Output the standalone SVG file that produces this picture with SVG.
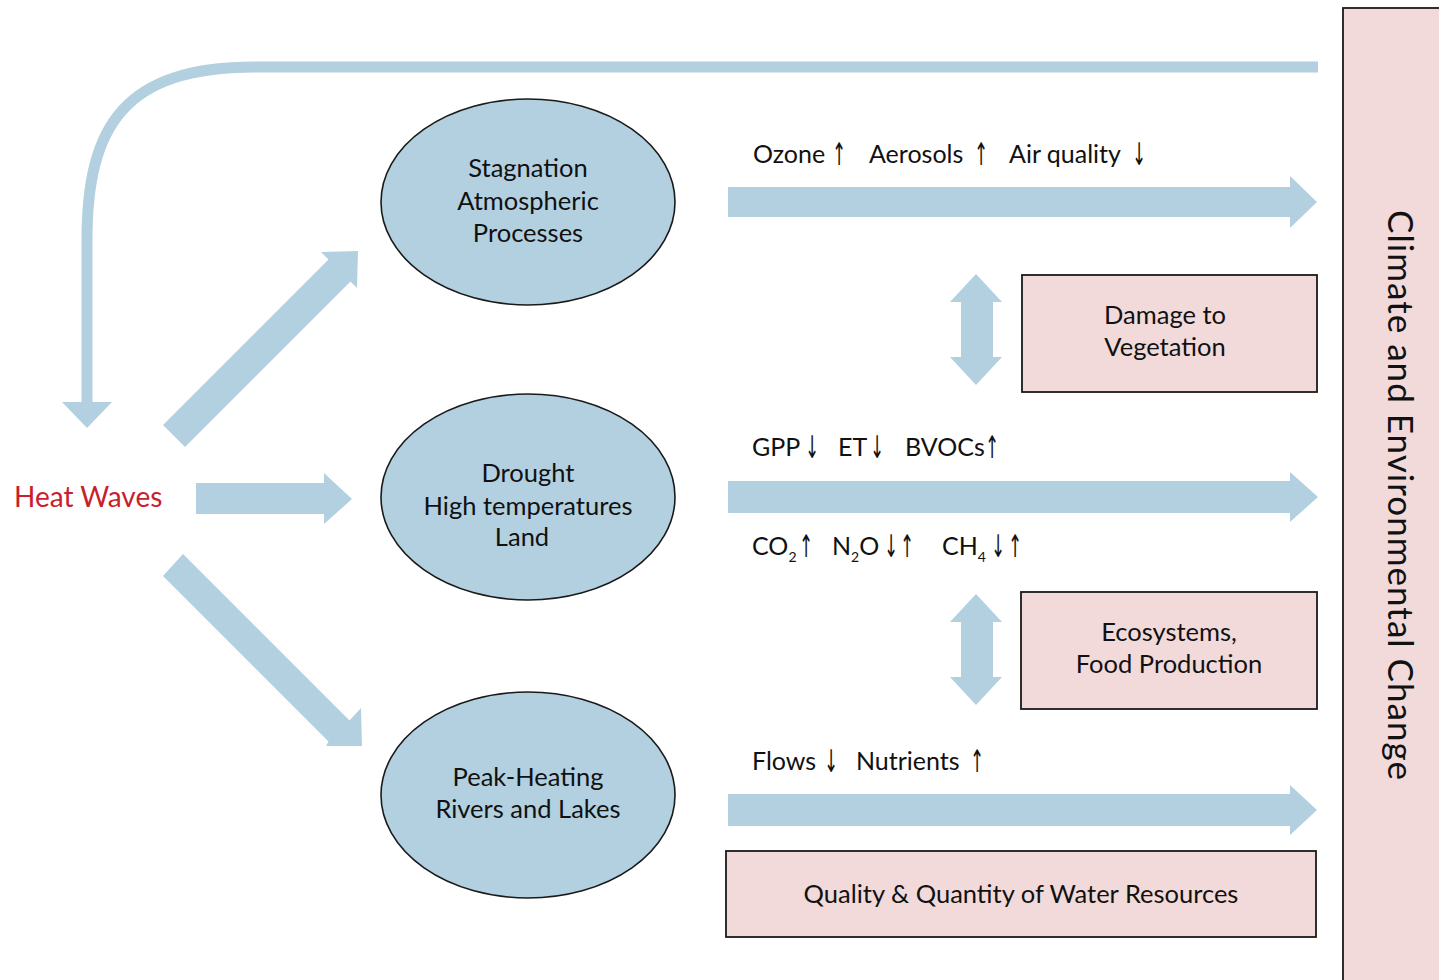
<svg xmlns="http://www.w3.org/2000/svg" width="1439" height="980" viewBox="0 0 1439 980">
  <style>
    .flow { fill: #b2d0e0; }
    .loop { fill: none; stroke: #b2d0e0; stroke-width: 11; }
    .proc { fill: #b2d0e0; stroke: #1a1a1a; stroke-width: 1.6; }
    .impact { fill: #f2dadb; stroke: #1a1a1a; stroke-width: 1.8; }
    text { font-family: Lato, "Liberation Sans", sans-serif; fill: #111; }
    .lbl { font-size: 25.5px; text-anchor: middle; }
    .eff { font-size: 25px; }
    .sub { font-size: 14px; }
    .ar { font-family: "DejaVu Sans", sans-serif; font-size: 24px; text-anchor: middle; fill: #111; }
    .heat { font-size: 28px; fill: #c8202e; }
  </style>
  <rect width="1439" height="980" fill="#ffffff"/>

  <!-- connectors -->
  <g id="connectors">
    <!-- feedback loop from climate change back to heat waves -->
    <path class="loop" d="M1318,67 L255,67 C125,67 87,125 87,240 L87,404"/>
    <polygon class="flow" points="62,402 112,402 87,428"/>
    <!-- heat waves to processes -->
    <polygon class="flow" points="163,425 328.5,259.5 321,252 358,251 357,288 350.5,281.5 185,447"/>
    <polygon class="flow" points="196,483 324,483 324,473 352,499 324,524 324,514 196,514"/>
    <polygon class="flow" points="163,576 328.5,741.5 326,746 362,746 361,708 349.5,720.5 183,554"/>
    <!-- processes to climate and environmental change -->
    <polygon class="flow" points="728,187 1290,187 1290,176 1317,202 1290,228 1290,217 728,217"/>
    <polygon class="flow" points="728,481 1290,481 1290,472 1318,497 1290,522 1290,513 728,513"/>
    <polygon class="flow" points="728,794 1290,794 1290,785 1317,810 1290,835 1290,826 728,826"/>
    <!-- two-way links -->
    <polygon class="flow" points="976,274 1002,302 993,302 993,357 1002,357 976,385 950,357 961,357 961,302 950,302"/>
    <polygon class="flow" points="976,594 1002,622 993,622 993,677 1002,677 976,705 950,677 961,677 961,622 950,622"/>
  </g>

  <g id="heat-waves">
    <text class="heat" x="14" y="507">Heat Waves</text>
  </g>

  <g id="stagnation">
    <ellipse class="proc" cx="528" cy="202" rx="147" ry="103"/>
    <text class="lbl" x="528" y="177">Stagnation</text>
    <text class="lbl" x="528" y="210">Atmospheric</text>
    <text class="lbl" x="528" y="242">Processes</text>
  </g>

  <g id="drought">
    <ellipse class="proc" cx="528" cy="497" rx="147" ry="103"/>
    <text class="lbl" x="528" y="482">Drought</text>
    <text class="lbl" x="528" y="515">High temperatures</text>
    <text class="lbl" x="522" y="546">Land</text>
  </g>

  <g id="peak-heating">
    <ellipse class="proc" cx="528" cy="795" rx="147" ry="103"/>
    <text class="lbl" x="528" y="786">Peak-Heating</text>
    <text class="lbl" x="528" y="818">Rivers and Lakes</text>
  </g>

  <g id="air-effects">
    <text class="eff" x="753" y="163">Ozone</text>
    <text class="ar" transform="translate(839,165) scale(0.7,1.3)">↑</text>
    <text class="eff" x="869" y="163">Aerosols</text>
    <text class="ar" transform="translate(981,165) scale(0.7,1.3)">↑</text>
    <text class="eff" x="1009" y="163">Air quality</text>
    <text class="ar" transform="translate(1139,165) scale(0.7,1.3)">↓</text>
  </g>

  <g id="land-effects">
    <text class="eff" x="752" y="456">GPP</text>
    <text class="ar" transform="translate(812,458) scale(0.7,1.3)">↓</text>
    <text class="eff" x="838" y="456">ET</text>
    <text class="ar" transform="translate(877,458) scale(0.7,1.3)">↓</text>
    <text class="eff" x="905" y="456">BVOCs</text>
    <text class="ar" transform="translate(992,458) scale(0.7,1.3)">↑</text>

    <text class="eff" x="752" y="555">CO<tspan class="sub" dy="7">2</tspan></text>
    <text class="ar" transform="translate(806,557) scale(0.7,1.3)">↑</text>
    <text class="eff" x="832" y="555">N<tspan class="sub" dy="7">2</tspan><tspan dy="-7">O</tspan></text>
    <text class="ar" transform="translate(891,557) scale(0.7,1.3)">↓</text>
    <text class="ar" transform="translate(907,557) scale(0.7,1.3)">↑</text>
    <text class="eff" x="942" y="555">CH<tspan class="sub" dy="7">4</tspan></text>
    <text class="ar" transform="translate(998,557) scale(0.7,1.3)">↓</text>
    <text class="ar" transform="translate(1015,557) scale(0.7,1.3)">↑</text>
  </g>

  <g id="water-effects">
    <text class="eff" x="752" y="770">Flows</text>
    <text class="ar" transform="translate(831,772) scale(0.7,1.3)">↓</text>
    <text class="eff" x="856" y="770">Nutrients</text>
    <text class="ar" transform="translate(977,772) scale(0.7,1.3)">↑</text>
  </g>

  <g id="vegetation">
    <rect class="impact" x="1022" y="275" width="295" height="117"/>
    <text class="lbl" x="1165" y="324">Damage to</text>
    <text class="lbl" x="1165" y="356">Vegetation</text>
  </g>

  <g id="ecosystems">
    <rect class="impact" x="1021" y="592" width="296" height="117"/>
    <text class="lbl" x="1169" y="641">Ecosystems,</text>
    <text class="lbl" x="1169" y="673">Food Production</text>
  </g>

  <g id="water-resources">
    <rect class="impact" x="726" y="851" width="590" height="86"/>
    <text class="lbl" x="1021" y="903">Quality &amp; Quantity of Water Resources</text>
  </g>

  <g id="climate-change">
    <rect class="impact" x="1343" y="8" width="110" height="990"/>
    <text class="lbl" style="font-size:35px" textLength="570" lengthAdjust="spacing" transform="translate(1388,495) rotate(90)">Climate and Environmental Change</text>
  </g>
</svg>
